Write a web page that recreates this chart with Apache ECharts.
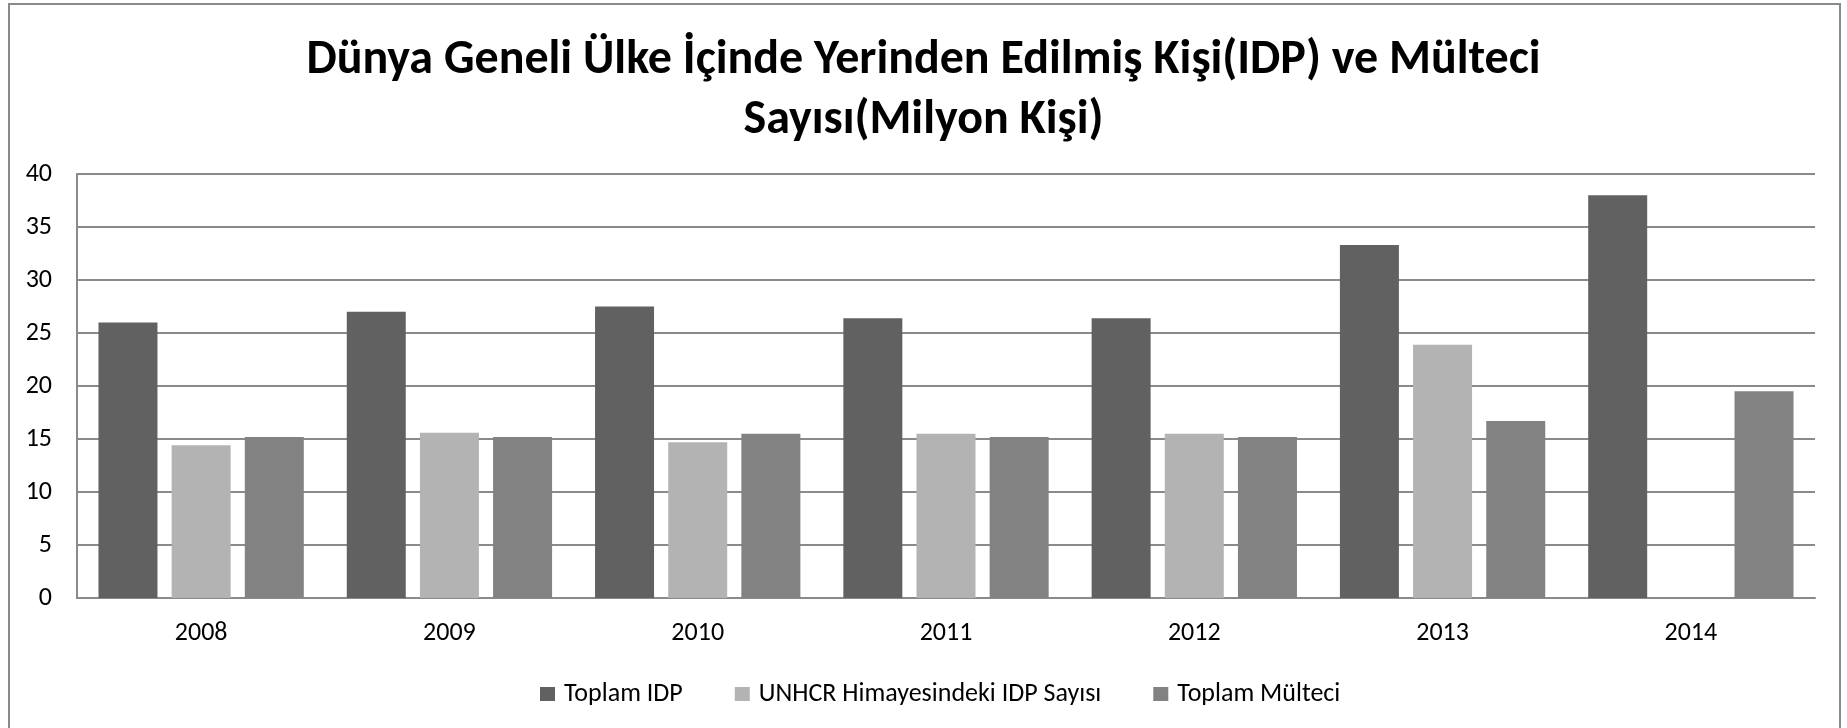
<!DOCTYPE html>
<html>
<head>
<meta charset="utf-8">
<script src="https://cdn.jsdelivr.net/npm/echarts@6/dist/echarts.min.js"></script>
<style>
  html, body { margin: 0; padding: 0; background: #fff; }
  #main { width: 1847px; height: 728px; }
</style>
</head>
<body>
<div id="main"></div>
<script>
// veriler (milyon kisi)
var years = ['2008', '2009', '2010', '2011', '2012', '2013', '2014'];
var toplamIdp = [26.0, 27.0, 27.5, 26.4, 26.4, 33.3, 38.0];
var unhcrIdp = [14.4, 15.6, 14.7, 15.5, 15.5, 23.9, null];
var toplamMulteci = [15.2, 15.2, 15.5, 15.2, 15.2, 16.7, 19.5];
var seriesNames = ['Toplam IDP', 'UNHCR Himayesindeki IDP Sayısı', 'Toplam Mülteci'];

var fontName = "Carlito, 'Open Sans', sans-serif";
var gridColor = '#8a8a8a';

var chart = echarts.init(document.getElementById('main'));
var option = {
    animation: false,
    color: ['#616161', '#b3b3b3', '#828282'],
    title: {
        text: 'Dünya Geneli Ülke İçinde Yerinden Edilmiş Kişi(IDP) ve Mülteci\nSayısı(Milyon Kişi)',
        left: 'center',
        top: 26,
        textStyle: {
            fontFamily: fontName,
            fontSize: 48,
            fontWeight: 'bold',
            lineHeight: 60,
            color: '#000'
        }
    },
    graphic: [{
        type: 'rect',
        shape: { x: 9, y: 4, width: 1831, height: 760 },
        style: { fill: 'none', stroke: '#8a8a8a', lineWidth: 2 },
        silent: true
    }],
    legend: {
        data: seriesNames,
        top: 676,
        left: 535,
        itemWidth: 15,
        itemHeight: 14,
        itemGap: 52,
        icon: 'rect',
        textStyle: { fontFamily: fontName, fontSize: 26, color: '#000', padding: [0, 0, 0, 4] }
    },
    grid: {
        left: 77,
        right: 32,
        top: 174,
        bottom: 130
    },
    xAxis: {
        type: 'category',
        data: years,
        axisLine: { lineStyle: { color: gridColor, width: 2 } },
        axisTick: { show: false },
        axisLabel: { fontFamily: fontName, fontSize: 26, color: '#000', margin: 22 }
    },
    yAxis: {
        type: 'value',
        min: 0,
        max: 40,
        interval: 5,
        axisLine: { show: true, lineStyle: { color: gridColor, width: 2 } },
        axisTick: { show: false },
        splitLine: { lineStyle: { color: gridColor, width: 2 } },
        axisLabel: { fontFamily: fontName, fontSize: 26, color: '#000', margin: 25 }
    },
    series: [
        { name: seriesNames[0], type: 'bar', data: toplamIdp, barWidth: 59, barGap: '24%' },
        { name: seriesNames[1], type: 'bar', data: unhcrIdp, barWidth: 59, barGap: '24%' },
        { name: seriesNames[2], type: 'bar', data: toplamMulteci, barWidth: 59, barGap: '24%' }
    ]
};
chart.setOption(option);
</script>
</body>
</html>
